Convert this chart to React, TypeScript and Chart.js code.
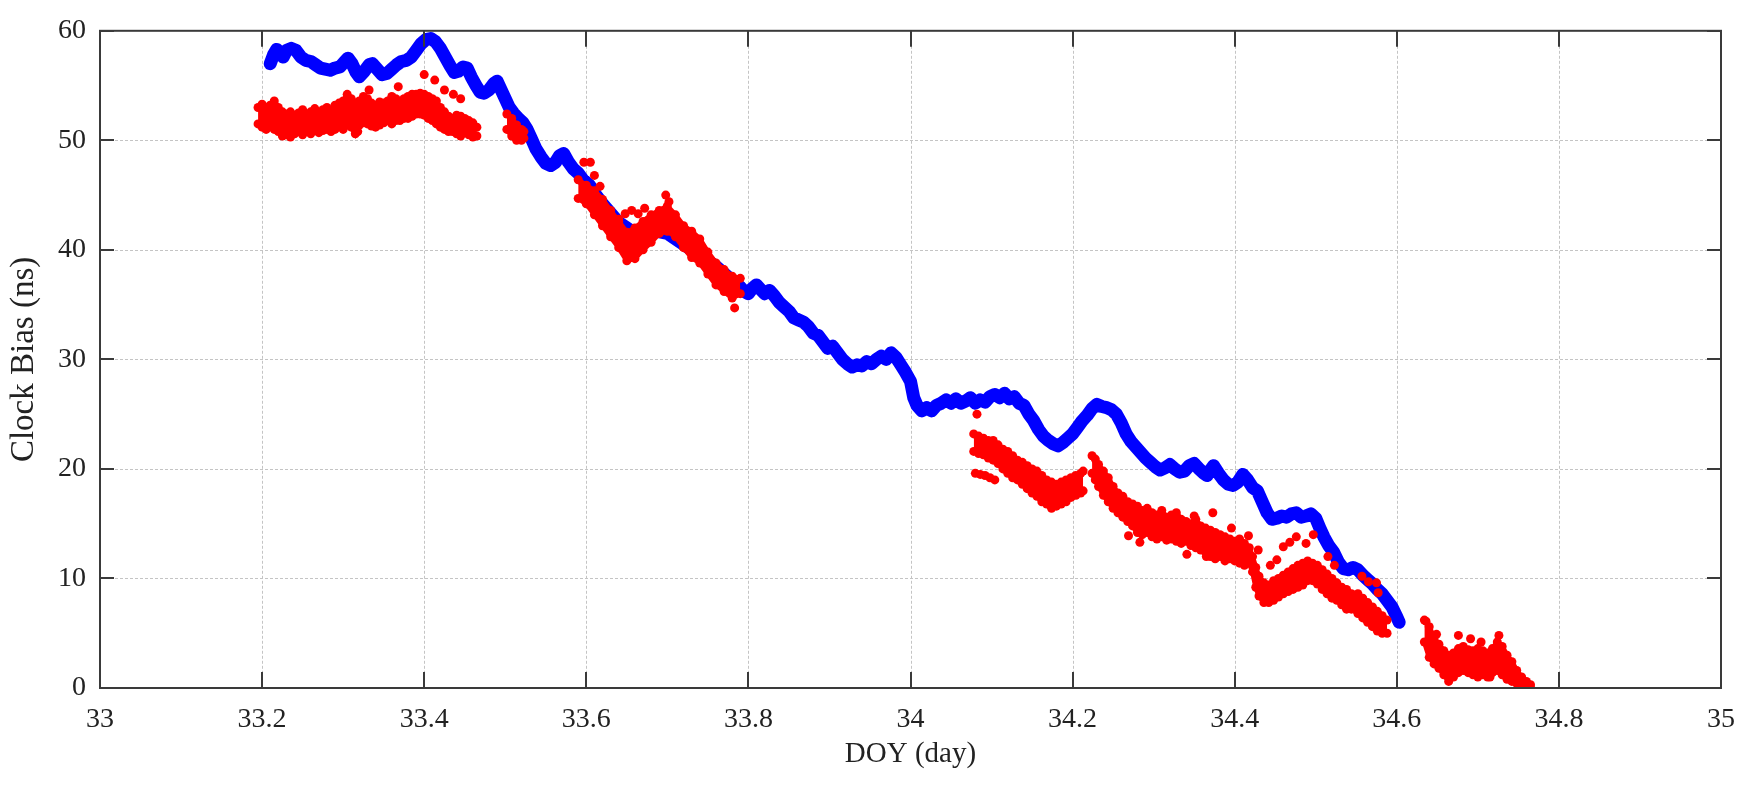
import React, { useEffect, useRef } from 'react';
import { Chart, registerables } from 'chart.js';

Chart.register(...registerables);

// ---------- axis ticks ----------
const xTickValues = [33, 33.2, 33.4, 33.6, 33.8, 34, 34.2, 34.4, 34.6, 34.8, 35];
const xTickLabels = ['33', '33.2', '33.4', '33.6', '33.8', '34', '34.2', '34.4', '34.6', '34.8', '35'];
const yTickValues = [0, 10, 20, 30, 40, 50, 60];
const yTickLabels = ['0', '10', '20', '30', '40', '50', '60'];

// ---------- blue series (DOY, clock bias ns) ----------
const blueDoy = [
  33.21, 33.214, 33.218, 33.222, 33.226, 33.23, 33.236, 33.242, 33.248, 33.254, 33.26, 33.266, 33.272, 33.278,
  33.284, 33.29, 33.296, 33.302, 33.306, 33.311, 33.316, 33.32, 33.326, 33.332, 33.336, 33.342, 33.348, 33.354,
  33.36, 33.366, 33.372, 33.378, 33.384, 33.39, 33.396, 33.402, 33.408, 33.414, 33.42, 33.426, 33.432, 33.437,
  33.442, 33.448, 33.453, 33.458, 33.464, 33.469, 33.474, 33.48, 33.486, 33.49, 33.495, 33.5, 33.505, 33.51,
  33.516, 33.522, 33.527, 33.532, 33.538, 33.544, 33.55, 33.556, 33.562, 33.567, 33.572, 33.578, 33.584, 33.59,
  33.596, 33.604, 33.612, 33.62, 33.64, 33.66, 33.68, 33.7, 33.72, 33.74, 33.76, 33.78, 33.79, 33.795, 33.8,
  33.805, 33.81, 33.815, 33.82, 33.826, 33.832, 33.838, 33.844, 33.85, 33.856, 33.862, 33.868, 33.874, 33.88,
  33.886, 33.892, 33.898, 33.904, 33.91, 33.916, 33.922, 33.928, 33.934, 33.94, 33.946, 33.952, 33.958, 33.964,
  33.97, 33.976, 33.982, 33.988, 33.994, 34.0, 34.004, 34.008, 34.014, 34.02, 34.026, 34.032, 34.038, 34.044,
  34.05, 34.056, 34.062, 34.068, 34.074, 34.08, 34.086, 34.092, 34.098, 34.104, 34.11, 34.116, 34.122, 34.128,
  34.134, 34.14, 34.146, 34.152, 34.158, 34.164, 34.17, 34.176, 34.182, 34.188, 34.194, 34.2, 34.206, 34.212,
  34.218, 34.224, 34.23, 34.236, 34.242, 34.248, 34.254, 34.26, 34.266, 34.272, 34.278, 34.284, 34.29, 34.296,
  34.302, 34.308, 34.314, 34.32, 34.326, 34.332, 34.338, 34.344, 34.35, 34.356, 34.362, 34.366, 34.37, 34.374,
  34.38, 34.386, 34.392, 34.398, 34.404, 34.41, 34.416, 34.422, 34.428, 34.434, 34.44, 34.446, 34.452, 34.458,
  34.464, 34.47, 34.476, 34.482, 34.488, 34.494, 34.5, 34.505, 34.51, 34.516, 34.522, 34.528, 34.534, 34.54,
  34.546, 34.552, 34.558, 34.564, 34.57, 34.576, 34.582, 34.588, 34.594, 34.6, 34.603,
];
const blueBias = [
  57.0, 57.8, 58.3, 58.0, 57.6, 58.2, 58.4, 58.2, 57.6, 57.3, 57.2, 56.9, 56.6, 56.5,
  56.4, 56.6, 56.7, 57.2, 57.5, 57.0, 56.2, 55.8, 56.3, 56.9, 57.0, 56.5, 56.0, 56.1,
  56.5, 56.9, 57.2, 57.3, 57.6, 58.2, 58.8, 59.2, 59.3, 59.0, 58.4, 57.6, 56.8, 56.2,
  56.3, 56.7, 56.6, 55.8, 55.0, 54.4, 54.3, 54.6, 55.2, 55.4, 54.6, 53.8, 53.0, 52.5,
  52.0, 51.6, 51.0, 50.2, 49.2, 48.5, 47.9, 47.7, 48.0, 48.6, 48.8, 48.0, 47.4, 47.0,
  46.4, 45.9, 45.0, 44.2, 42.5, 41.5, 41.8, 41.5, 40.5, 39.5, 38.5, 37.2, 36.6, 36.2, 36.0,
  36.5, 36.8, 36.4, 36.0, 36.3, 35.8, 35.2, 34.8, 34.4, 33.8, 33.6, 33.4, 33.0, 32.4,
  32.2, 31.6, 31.0, 31.2, 30.6, 30.0, 29.6, 29.3, 29.5, 29.4, 29.8, 29.6, 30.0, 30.3,
  30.0, 30.6, 30.2, 29.5, 28.8, 28.0, 26.5, 25.8, 25.3, 25.6, 25.3, 25.8, 26.0, 26.3,
  26.0, 26.4, 26.0, 26.2, 26.5, 26.0, 26.3, 26.1, 26.6, 26.8, 26.5, 26.9, 26.4, 26.6,
  26.0, 25.8, 25.0, 24.4, 23.6, 23.0, 22.6, 22.3, 22.1, 22.4, 22.8, 23.2, 23.8, 24.4,
  24.9, 25.5, 25.9, 25.7, 25.6, 25.4, 25.0, 24.2, 23.2, 22.5, 22.0, 21.5, 21.0, 20.6,
  20.2, 19.9, 20.1, 20.4, 20.0, 19.7, 19.8, 20.3, 20.5, 20.0, 19.6, 19.4, 19.9, 20.3,
  19.6, 19.0, 18.6, 18.5, 18.8, 19.5, 19.0, 18.3, 18.0, 17.0, 16.0, 15.4, 15.5, 15.7,
  15.6, 15.9, 16.0, 15.6, 15.7, 15.9, 15.5, 14.6, 13.8, 13.0, 12.4, 11.5, 10.9, 10.8,
  11.0, 10.8, 10.3, 9.9, 9.5, 9.0, 8.6, 8.0, 7.4, 6.5, 6.0,
];

// ---------- red series: dense bands as [DOY, low edge, high edge] ----------
const redBand1: [number, number, number][] = [
  [33.195, 51.5, 53.0], [33.2, 51.2, 53.3], [33.205, 51.0, 53.0], [33.21, 51.3, 53.2], [33.215, 51.0, 53.6],
  [33.22, 50.8, 53.0], [33.225, 50.4, 52.6], [33.23, 50.5, 52.4], [33.235, 50.3, 52.6], [33.24, 50.6, 52.3],
  [33.245, 50.8, 52.5], [33.25, 50.5, 52.8], [33.255, 50.8, 52.4], [33.26, 50.6, 52.6], [33.265, 51.0, 52.9],
  [33.27, 50.7, 52.5], [33.275, 50.9, 52.8], [33.28, 51.0, 53.0], [33.285, 50.8, 52.6], [33.29, 51.0, 53.2],
  [33.295, 51.3, 53.4], [33.3, 51.0, 53.6], [33.305, 51.4, 54.2], [33.31, 51.2, 53.8], [33.315, 50.6, 53.4],
  [33.32, 51.4, 53.6], [33.325, 51.6, 54.0], [33.33, 51.5, 53.8], [33.335, 51.3, 53.4], [33.34, 51.2, 53.2],
  [33.345, 51.4, 53.5], [33.35, 51.6, 53.4], [33.355, 51.8, 53.6], [33.36, 51.5, 54.0], [33.365, 51.8, 53.8],
  [33.37, 51.8, 53.6], [33.375, 52.0, 53.8], [33.38, 52.0, 54.0], [33.385, 52.2, 54.2], [33.39, 52.4, 54.2],
  [33.395, 52.4, 54.3], [33.4, 52.3, 54.2], [33.405, 52.0, 54.0], [33.41, 51.8, 53.8], [33.415, 51.5, 53.6],
  [33.42, 51.2, 53.0], [33.425, 51.0, 52.6], [33.43, 50.8, 52.2], [33.435, 50.8, 52.0], [33.44, 50.6, 52.3],
  [33.445, 50.4, 52.2], [33.45, 50.7, 52.0], [33.455, 50.5, 51.8], [33.46, 50.3, 51.6], [33.465, 50.4, 51.2],
];
const redBand2: [number, number, number][] = [
  [33.502, 51.0, 52.4], [33.508, 50.4, 52.0], [33.514, 50.0, 51.4], [33.52, 50.0, 51.0], [33.523, 50.2, 50.8],
];
const redBand3: [number, number, number][] = [
  [33.59, 44.7, 46.4], [33.6, 44.2, 45.9], [33.61, 43.2, 45.4], [33.62, 42.2, 44.6], [33.63, 41.2, 43.6],
  [33.64, 40.2, 42.6], [33.65, 39.0, 41.6], [33.66, 39.2, 42.0], [33.67, 40.0, 42.6], [33.68, 40.7, 43.2],
  [33.69, 41.5, 43.6], [33.7, 41.7, 44.0], [33.71, 41.2, 43.2], [33.72, 40.2, 42.2], [33.73, 39.3, 41.7],
  [33.74, 38.8, 41.0], [33.75, 37.8, 39.8], [33.76, 36.8, 38.8], [33.77, 36.2, 38.2], [33.78, 35.6, 37.6],
  [33.79, 36.0, 37.4],
];
const redBand4: [number, number, number][] = [
  [34.078, 21.6, 23.2], [34.084, 21.4, 23.0], [34.09, 21.3, 22.8], [34.096, 21.0, 22.6], [34.102, 20.8, 22.6],
  [34.108, 20.5, 22.2], [34.114, 20.0, 21.8], [34.12, 19.6, 21.6], [34.126, 19.2, 21.2], [34.132, 19.0, 20.8],
  [34.138, 18.6, 20.6], [34.144, 18.2, 20.3], [34.15, 17.8, 20.0], [34.156, 17.5, 19.8], [34.162, 17.0, 19.4],
  [34.168, 16.8, 19.0], [34.174, 16.4, 18.8], [34.18, 16.6, 18.6], [34.186, 16.8, 18.8], [34.192, 17.0, 19.0],
  [34.198, 17.4, 19.2], [34.204, 17.6, 19.4], [34.21, 17.8, 19.6], [34.213, 18.0, 19.8],
];
const redBand5: [number, number, number][] = [
  [34.224, 19.6, 21.2], [34.228, 19.0, 20.9], [34.232, 18.4, 20.4], [34.238, 17.6, 19.8], [34.244, 17.0, 19.2],
  [34.25, 16.4, 18.4], [34.256, 16.0, 17.8], [34.262, 15.6, 17.5], [34.268, 15.2, 17.0], [34.274, 14.8, 16.8],
  [34.28, 14.2, 16.6], [34.286, 14.0, 16.2], [34.292, 14.2, 16.4], [34.298, 13.8, 16.0], [34.304, 13.6, 15.8],
  [34.31, 13.8, 16.2], [34.316, 13.5, 15.6], [34.322, 13.6, 15.8], [34.328, 13.4, 16.0], [34.334, 13.2, 15.4],
  [34.34, 13.4, 15.2], [34.346, 13.0, 15.0], [34.352, 12.8, 15.4], [34.358, 12.6, 14.8], [34.364, 12.4, 14.6],
  [34.37, 12.0, 14.4], [34.376, 11.8, 14.2], [34.382, 12.0, 14.0], [34.388, 11.6, 13.8], [34.394, 11.8, 13.6],
  [34.4, 11.6, 13.4], [34.406, 11.4, 13.6], [34.412, 11.2, 13.2], [34.418, 11.4, 12.8], [34.422, 10.6, 12.0],
  [34.426, 9.2, 11.0], [34.43, 8.4, 10.2], [34.436, 7.8, 9.6], [34.442, 7.8, 9.4], [34.448, 8.0, 9.8],
  [34.454, 8.3, 10.0], [34.46, 8.6, 10.3], [34.466, 8.8, 10.6], [34.472, 9.0, 10.9], [34.478, 9.2, 11.2],
  [34.484, 9.4, 11.4], [34.49, 9.8, 11.6], [34.496, 9.8, 11.4], [34.502, 9.5, 11.2], [34.508, 9.0, 10.8],
  [34.514, 8.6, 10.4], [34.52, 8.2, 10.0], [34.526, 8.0, 9.6], [34.532, 7.6, 9.2], [34.538, 7.2, 9.0],
  [34.544, 7.2, 8.6], [34.552, 6.8, 8.6], [34.558, 6.4, 8.2], [34.564, 6.0, 7.8], [34.57, 5.6, 7.4],
  [34.576, 5.2, 7.0], [34.582, 5.0, 6.6], [34.588, 5.0, 6.2],
];
const redBand6: [number, number, number][] = [
  [34.634, 4.2, 6.2], [34.64, 2.8, 5.6], [34.646, 2.2, 4.6], [34.652, 1.8, 4.0], [34.658, 1.2, 3.4],
  [34.664, 0.6, 3.0], [34.67, 1.0, 3.2], [34.676, 1.4, 3.6], [34.682, 1.6, 3.8], [34.688, 1.4, 3.5],
  [34.694, 1.2, 3.4], [34.7, 1.0, 3.6], [34.706, 1.2, 3.4], [34.712, 1.0, 3.2], [34.718, 1.4, 3.6],
  [34.724, 1.6, 4.2], [34.73, 1.2, 3.8], [34.736, 0.8, 3.0], [34.742, 0.6, 2.4], [34.748, 0.4, 1.6],
  [34.754, 0.2, 1.0], [34.76, 0.0, 0.6], [34.765, 0.0, 0.3],
];

// ---------- red series: isolated points ----------
const redDotDoy = [
  33.318, 33.332, 33.368, 33.4, 33.413, 33.425, 33.436, 33.445,
  33.597, 33.605, 33.61, 33.617, 33.64, 33.648, 33.656, 33.664, 33.672, 33.698, 33.702, 33.783,
  34.08, 34.086, 34.092, 34.098, 34.104, 34.082,
  34.269, 34.283, 34.341, 34.35, 34.365, 34.373, 34.396, 34.417, 34.429,
  34.444, 34.452, 34.46, 34.468, 34.476, 34.488, 34.497, 34.515, 34.523, 34.557, 34.565, 34.575, 34.577,
  34.636, 34.649, 34.676, 34.691, 34.704, 34.726, 34.715,
];
const redDotBias = [
  50.8, 54.6, 54.9, 56.0, 55.5, 54.6, 54.2, 53.8,
  48.0, 48.0, 46.8, 45.8, 42.8, 43.3, 43.6, 43.3, 43.8, 45.0, 44.4, 34.7,
  19.6, 19.5, 19.4, 19.2, 19.0, 25.0,
  13.9, 13.3, 12.2, 15.7, 12.0, 16.0, 14.6, 13.9, 12.6,
  11.2, 11.7, 12.9, 13.3, 13.8, 13.2, 14.0, 12.0, 11.2, 10.2, 9.7, 9.6, 8.7,
  6.1, 4.9, 4.8, 4.5, 4.2, 4.8, 1.0,
];

const RED = '#ff0000';
const BLUE = '#0000ff';
const FONT = "'Liberation Serif', 'Times New Roman', serif";

const framePlugin = {
  id: 'frameAndGrid',
  beforeDatasetsDraw(chart: any) {
    const { ctx, chartArea: a, scales } = chart;
    const xs = scales.x;
    const ys = scales.y;
    ctx.save();
    ctx.strokeStyle = '#c4c4c4';
    ctx.lineWidth = 1;
    ctx.setLineDash([3, 2]);
    xTickValues.forEach((v) => {
      const px = Math.round(xs.getPixelForValue(v)) + 0.5;
      if (px < a.left + 2 || px > a.right - 2) return;
      ctx.beginPath();
      ctx.moveTo(px, a.top);
      ctx.lineTo(px, a.bottom);
      ctx.stroke();
    });
    yTickValues.forEach((v) => {
      const py = Math.round(ys.getPixelForValue(v)) + 0.5;
      if (py < a.top + 2 || py > a.bottom - 2) return;
      ctx.beginPath();
      ctx.moveTo(a.left, py);
      ctx.lineTo(a.right, py);
      ctx.stroke();
    });
    ctx.restore();
  },
  afterDatasetsDraw(chart: any) {
    const { ctx, chartArea: a, scales } = chart;
    const xs = scales.x;
    const ys = scales.y;
    ctx.save();
    ctx.setLineDash([]);
    ctx.strokeStyle = '#3a3a3a';
    ctx.lineWidth = 2;
    ctx.strokeRect(a.left, a.top, a.right - a.left, a.bottom - a.top);
    const tl = 16;
    xTickValues.forEach((v) => {
      const px = Math.round(xs.getPixelForValue(v));
      ctx.beginPath();
      ctx.moveTo(px, a.bottom);
      ctx.lineTo(px, a.bottom - tl);
      ctx.moveTo(px, a.top);
      ctx.lineTo(px, a.top + tl);
      ctx.stroke();
    });
    yTickValues.forEach((v) => {
      const py = Math.round(ys.getPixelForValue(v));
      ctx.beginPath();
      ctx.moveTo(a.left, py);
      ctx.lineTo(a.left + 14, py);
      ctx.moveTo(a.right, py);
      ctx.lineTo(a.right - 14, py);
      ctx.stroke();
    });
    ctx.restore();
  },
};

function bandDatasets(band: [number, number, number][]) {
  const lo = band.map((p) => ({ x: p[0], y: p[1] }));
  const hi = band.map((p) => ({ x: p[0], y: p[2] }));
  const common = {
    borderColor: RED,
    backgroundColor: RED,
    pointBackgroundColor: RED,
    pointBorderWidth: 0,
    pointRadius: 4.5,
    borderWidth: 5,
    tension: 0,
    order: 1,
  };
  return [
    { ...common, data: lo, fill: false },
    { ...common, data: hi, fill: '-1' },
  ];
}

export default function App() {
  const canvasRef = useRef<HTMLCanvasElement | null>(null);

  useEffect(() => {
    document.body.style.margin = '0';
    const canvas = canvasRef.current;
    if (!canvas) return;

    const datasets: any[] = [];
    [redBand1, redBand2, redBand3, redBand4, redBand5, redBand6].forEach((b) => {
      datasets.push(...bandDatasets(b));
    });
    datasets.push({
      data: redDotDoy.map((x, i) => ({ x, y: redDotBias[i] })),
      showLine: false,
      pointRadius: 4.5,
      pointBorderWidth: 0,
      pointBackgroundColor: RED,
      borderColor: RED,
      backgroundColor: RED,
      fill: false,
      order: 1,
    });
    datasets.push({
      data: blueDoy.map((x, i) => ({ x, y: blueBias[i] })),
      borderColor: BLUE,
      backgroundColor: BLUE,
      borderWidth: 13,
      pointRadius: 0,
      borderJoinStyle: 'round',
      borderCapStyle: 'round',
      tension: 0,
      fill: false,
      order: 10,
    });

    const chart = new Chart(canvas, {
      type: 'line',
      data: { datasets },
      options: {
        animation: false,
        responsive: false,
        devicePixelRatio: 1,
        layout: { padding: { left: 0, right: 33, top: 20, bottom: 0 } },
        plugins: {
          legend: { display: false },
          tooltip: { enabled: false },
        },
        scales: {
          x: {
            type: 'linear',
            min: 33,
            max: 35,
            afterBuildTicks: (s: any) => {
              s.ticks = xTickValues.map((v) => ({ value: v }));
            },
            afterFit: (s: any) => {
              s.height = 98;
            },
            grid: { display: false, drawTicks: false },
            border: { display: false },
            ticks: {
              padding: 15,
              color: '#222',
              font: { family: FONT, size: 28 },
              maxRotation: 0,
              autoSkip: false,
              callback: (_v: any, i: number) => xTickLabels[i],
            },
            title: {
              display: true,
              text: 'DOY (day)',
              color: '#222',
              font: { family: FONT, size: 29 },
              padding: { top: 0, bottom: 14 },
            },
          },
          y: {
            type: 'linear',
            min: 0,
            max: 60,
            afterBuildTicks: (s: any) => {
              s.ticks = yTickValues.map((v) => ({ value: v }));
            },
            afterFit: (s: any) => {
              s.width = 100;
            },
            grid: { display: false, drawTicks: false },
            border: { display: false },
            ticks: {
              padding: 14,
              color: '#222',
              font: { family: FONT, size: 28 },
              autoSkip: false,
              callback: (_v: any, i: number) => yTickLabels[i],
            },
            title: {
              display: true,
              text: 'Clock Bias (ns)',
              color: '#222',
              font: { family: FONT, size: 33 },
              padding: { top: 5, bottom: 0 },
            },
          },
        },
      },
      plugins: [framePlugin],
    });

    return () => {
      chart.destroy();
    };
  }, []);

  return (
    <div style={{ position: 'absolute', left: 0, top: 0, width: 1754, height: 786, background: '#fff' }}>
      <canvas ref={canvasRef} width={1754} height={786} style={{ display: 'block' }} />
    </div>
  );
}
